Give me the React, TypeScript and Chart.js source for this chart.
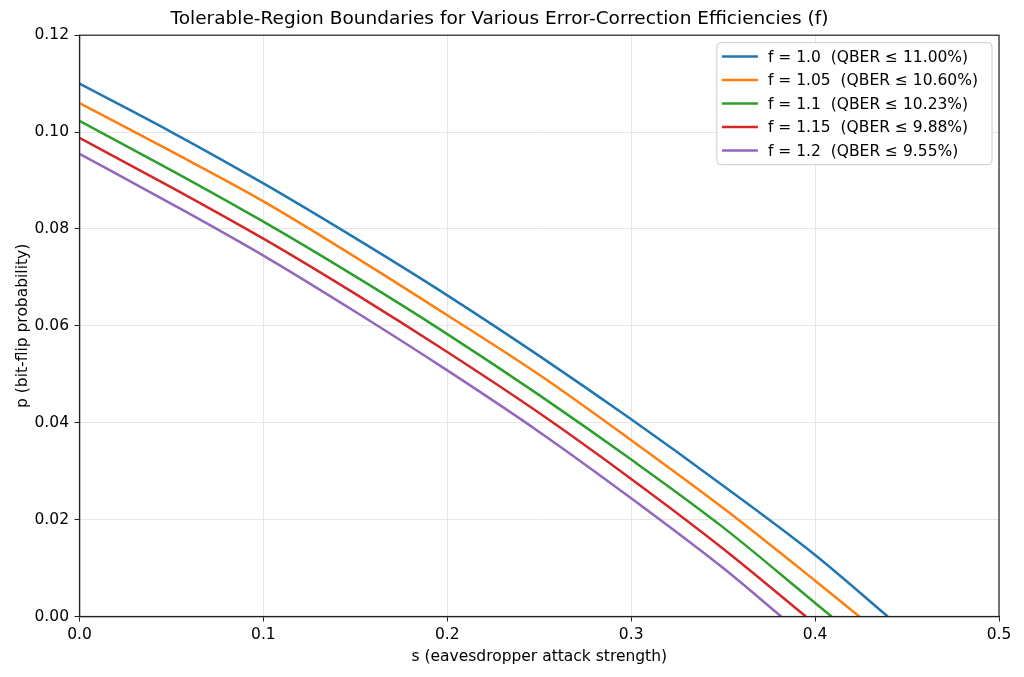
import { useEffect, useRef } from 'react';
import { Chart, registerables, Plugin } from 'chart.js';

Chart.register(...registerables);

const S_STEPS = [0, 0.05, 0.1, 0.15, 0.2, 0.25, 0.3, 0.35, 0.4];

// p values per efficiency f (bit-flip probability boundary)
const P_F100 = [0.11, 0.1, 0.0894, 0.0781, 0.0663, 0.0538, 0.0407, 0.027, 0.0127];
const P_F105 = [0.106, 0.096, 0.0857, 0.0742, 0.0622, 0.0499, 0.0364, 0.0224, 0.0074];
const P_F110 = [0.1023, 0.0921, 0.0815, 0.0702, 0.0583, 0.0457, 0.0324, 0.0184, 0.0028];
const P_F115 = [0.0988, 0.0886, 0.078, 0.0666, 0.0546, 0.042, 0.0284, 0.014];
const P_F120 = [0.0955, 0.0852, 0.0745, 0.0629, 0.0508, 0.0381, 0.0244, 0.01];

// where each curve reaches p = 0
const S_AT_ZERO = [0.4395, 0.424, 0.409, 0.395, 0.3816];

const F_LABELS = ['1.0', '1.05', '1.1', '1.15', '1.2'];
const QBER_LABELS = ['11.00%', '10.60%', '10.23%', '9.88%', '9.55%'];
const COLORS = ['#1f77b4', '#ff7f0e', '#2ca02c', '#d62728', '#9467bd'];

const X_TICKS = [0, 0.1, 0.2, 0.3, 0.4, 0.5];
const Y_TICKS = [0, 0.02, 0.04, 0.06, 0.08, 0.1, 0.12];

const FONT = 'DejaVu Sans';

const toPoints = (ps: number[], sEnd: number) => {
  const pts = ps.map((p, i) => ({ x: S_STEPS[i], y: p }));
  pts.push({ x: sEnd, y: 0 });
  return pts;
};

// matplotlib-style box around the plot area
const framePlugin: Plugin<'line'> = {
  id: 'frame',
  afterDatasetsDraw(chart) {
    const { ctx, chartArea: a } = chart;
    ctx.save();
    ctx.strokeStyle = '#222';
    ctx.lineWidth = 1.2;
    ctx.strokeRect(a.left, a.top, a.right - a.left, a.bottom - a.top);
    ctx.restore();
  },
};

// legend drawn inside the plot, upper right
const legendPlugin: Plugin<'line'> = {
  id: 'insideLegend',
  afterDraw(chart) {
    const { ctx, chartArea: a } = chart;
    const sets = chart.data.datasets;
    ctx.save();
    ctx.font = `15.5px "${FONT}"`;
    const maxW = Math.max(...sets.map((d) => ctx.measureText(String(d.label)).width));
    const boxW = 51 + maxW + 14;
    const rowH = 23.5;
    const boxH = rowH * (sets.length - 1) + 28;
    const right = a.right - 7;
    const left = right - boxW;
    const top = a.top + 7.5;

    ctx.beginPath();
    ctx.roundRect(left, top, boxW, boxH, 4);
    ctx.fillStyle = 'rgba(255,255,255,0.85)';
    ctx.fill();
    ctx.strokeStyle = '#cccccc';
    ctx.lineWidth = 1;
    ctx.stroke();

    sets.forEach((d, i) => {
      const y = top + 13.8 + i * rowH;
      ctx.beginPath();
      ctx.moveTo(left + 5, y);
      ctx.lineTo(left + 41, y);
      ctx.strokeStyle = String(d.borderColor);
      ctx.lineWidth = 2.5;
      ctx.stroke();
      ctx.fillStyle = '#000';
      ctx.textAlign = 'left';
      ctx.textBaseline = 'middle';
      ctx.fillText(String(d.label), left + 51, y + 1);
    });
    ctx.restore();
  },
};

export default function App() {
  const chartRef = useRef<HTMLCanvasElement>(null);
  const chartInstance = useRef<Chart | null>(null);

  useEffect(() => {
    if (!chartRef.current) return;
    if (chartInstance.current) chartInstance.current.destroy();

    const ctx = chartRef.current.getContext('2d');
    if (!ctx) return;

    const series = [P_F100, P_F105, P_F110, P_F115, P_F120];

    chartInstance.current = new Chart(ctx, {
      type: 'line',
      data: {
        datasets: series.map((ps, i) => ({
          label: `f = ${F_LABELS[i]}  (QBER \u2264 ${QBER_LABELS[i]})`,
          data: toPoints(ps, S_AT_ZERO[i]),
          borderColor: COLORS[i],
          backgroundColor: COLORS[i],
          borderWidth: 2.5,
          pointRadius: 0,
          cubicInterpolationMode: 'monotone' as const,
          fill: false,
        })),
      },
      options: {
        responsive: true,
        maintainAspectRatio: false,
        animation: false,
        layout: { padding: { left: 0, right: 25, top: 0, bottom: 0 } },
        plugins: {
          legend: { display: false },
          tooltip: { enabled: false },
          title: {
            display: true,
            text: 'Tolerable-Region Boundaries for Various Error-Correction Efficiencies (f)',
            color: '#000',
            font: { family: FONT, size: 18.5, weight: 'normal' },
            padding: { top: 8.5, bottom: 4.5 },
          },
        },
        scales: {
          x: {
            type: 'linear',
            min: 0,
            max: 0.5,
            afterBuildTicks: (scale) => {
              scale.ticks = X_TICKS.map((v) => ({ value: v }));
            },
            afterFit: (scale) => {
              scale.height = 60.5;
            },
            ticks: {
              color: '#000',
              font: { family: FONT, size: 15.5 },
              padding: 4,
              maxRotation: 0,
              callback: (v) => Number(v).toFixed(1),
            },
            grid: { color: '#e6e6e6', lineWidth: 1, tickColor: '#222', tickLength: 5 },
            border: { color: '#222', width: 1.2 },
            title: {
              display: true,
              text: 's (eavesdropper attack strength)',
              color: '#000',
              font: { family: FONT, size: 15.5 },
              padding: { top: 0, bottom: 11 },
            },
          },
          y: {
            type: 'linear',
            min: 0,
            max: 0.12,
            afterBuildTicks: (scale) => {
              scale.ticks = Y_TICKS.map((v) => ({ value: v }));
            },
            afterFit: (scale) => {
              scale.width = 79.5;
            },
            ticks: {
              color: '#000',
              font: { family: FONT, size: 15.5 },
              padding: 5.5,
              callback: (v) => Number(v).toFixed(2),
            },
            grid: { color: '#e6e6e6', lineWidth: 1, tickColor: '#222', tickLength: 5 },
            border: { color: '#222', width: 1.2 },
            title: {
              display: true,
              text: 'p (bit-flip probability)',
              color: '#000',
              font: { family: FONT, size: 15.5 },
              padding: { top: 13.4, bottom: 0 },
            },
          },
        },
      },
      plugins: [framePlugin, legendPlugin],
    });

    return () => {
      if (chartInstance.current) {
        chartInstance.current.destroy();
        chartInstance.current = null;
      }
    };
  }, []);

  return (
    <div style={{ position: 'fixed', left: 0, top: 0, width: 1024, height: 677, background: '#fff' }}>
      <canvas ref={chartRef}></canvas>
    </div>
  );
}
